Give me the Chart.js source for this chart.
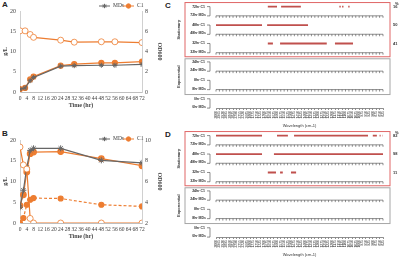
<html>
<head>
<script src="https://cdn.jsdelivr.net/npm/chart.js"></script>
<style>
  body { margin: 0; width: 400px; height: 258px; background: #fff; position: relative; overflow: hidden; }
  canvas { position: absolute; }
  .panel { position: absolute; font-family: "Liberation Sans", Arial, sans-serif; font-weight: bold; font-size: 8px; color: #222; }
</style>
</head>
<body>
<div class="panel" style="left:2px;top:0px">A</div>
<div class="panel" style="left:2px;top:129px">B</div>
<div class="panel" style="left:165px;top:1px">C</div>
<div class="panel" style="left:165px;top:130px">D</div>

<canvas id="chartA" width="165" height="129" style="left:0;top:0"></canvas>
<canvas id="chartB" width="165" height="129" style="left:0;top:129px"></canvas>
<canvas id="chartC" width="240" height="129" style="left:160px;top:0"></canvas>
<canvas id="chartD" width="240" height="129" style="left:160px;top:129px"></canvas>

<script>
// ---- panel A (time course)
var hoursA = [0, 3, 6, 8, 24, 32, 48, 56, 72];
var mdsA = [0.7, 1.0, 2.8, 3.6, 6.4, 6.5, 6.6, 6.6, 6.8];
var c1A = [0.7, 1.0, 3.1, 3.8, 6.5, 6.9, 7.2, 7.2, 7.5];
var sugarA = [15.1, 15.1, 14.2, 13.5, 12.8, 12.3, 12.4, 12.4, 12.2];

// ---- panel B (time course)
var hoursB = [0, 2, 4, 6, 8, 24, 48, 72];
var mdsB = [3.8, 7.9, 13.4, 17.5, 18.0, 18.0, 15.1, 14.5];
var c1B = [4.2, 6.8, 12.3, 16.7, 17.1, 17.2, 15.5, 13.8];
var sugarB = [18.3, 14.0, 13.0, 1.1, 0, 0, 0, 0];
var dashB = [0, 1.2, 4.4, 5.6, 6.0, 5.9, 4.4, 4.0];

// ---- panels C / D (significant regions along the spectrum)
var wavenumbers = ['3000','2965','2930','2895','2860','2825','2790','2755','2720','2685',
                   '1800','1775','1750','1725','1700','1675','1650','1625','1600','1575',
                   '1550','1525','1500','1475','1450','1425','1400','1375','1350','1325',
                   '1300','1275','1250','1225','1200','1175','1150','1125','1100','1075',
                   '1050','1025','1000','975','950','925','900','875','850','825'];
var rowTimes = ['72hr', '48hr', '32hr', '24hr', '8hr', '0hr'];

var sigC72 = [[15.2, 17.9], [19.1, 24.9], [36.2, 36.6], [37.0, 37.4], [38.8, 39.2]];
var sigC48 = [[0, 13.5], [15.0, 27.0]];
var sigC32 = [[15.2, 16.7], [18.8, 32.5], [34.9, 40.2], [49.1, 49.5]];
var pctC = ['16', '50', '41'];

var sigD72 = [[0, 13.5], [17.9, 21.1], [22.9, 44.6], [46.0, 47.2], [48.0, 48.3], [48.9, 49.2]];
var sigD48 = [[0, 13.5], [17.0, 49.5]];
var sigD32 = [[15.2, 17.6], [18.8, 19.6], [22.0, 23.5], [49.1, 49.5]];
var pctD = ['82', '98', '11'];

var GRAY = '#666666';
var ORANGE = '#ED7D31';
var SERIF = 'Liberation Serif';

function pts(hours, vals) {
    return hours.map(function(h, i) { return { x: h, y: vals[i] }; });
}

// legend drawn as line + marker + text, like the original
var legendPlugin = {
    id: 'lineLegend',
    afterDraw: function(chart, args, opts) {
        var ctx = chart.ctx;
        var r = chart.chartArea.right;
        var y = opts.y;
        var items = [
            { x: r - 43, color: GRAY, style: 'star', text: 'MDs' },
            { x: r - 19, color: ORANGE, style: 'circle', text: 'C1' }
        ];
        ctx.save();
        items.forEach(function(it) {
            ctx.strokeStyle = it.color;
            ctx.fillStyle = it.color;
            ctx.lineWidth = 1;
            ctx.beginPath();
            ctx.moveTo(it.x, y);
            ctx.lineTo(it.x + 11, y);
            ctx.stroke();
            Chart.helpers.drawPoint(ctx, { pointStyle: it.style, radius: 2.2, borderWidth: 1, rotation: 0 }, it.x + 5.5, y);
            ctx.fillStyle = '#404040';
            ctx.font = '5.5px ' + SERIF;
            ctx.textBaseline = 'middle';
            ctx.fillText(it.text, it.x + 14, y);
        });
        ctx.restore();
    }
};

function timeChart(id, datasets, y1, legendY, chartTop, bottomPad) {
    var tickFont = { family: SERIF, size: 5.5 };
    new Chart(document.getElementById(id), {
        type: 'line',
        data: { datasets: datasets },
        options: {
            responsive: false,
            animation: false,
            events: [],
            layout: { padding: { top: chartTop, bottom: bottomPad, left: 0, right: 0 } },
            plugins: {
                legend: { display: false },
                tooltip: { enabled: false },
                lineLegend: { y: legendY }
            },
            scales: {
                x: {
                    type: 'linear', min: 0, max: 72,
                    afterFit: function(s) { s.height = 17; },
                    ticks: { stepSize: 4, autoSkip: false, maxRotation: 0, font: tickFont, color: '#404040', padding: 3 },
                    grid: { display: false, drawTicks: false },
                    border: { color: '#bfbfbf' },
                    title: { display: true, text: 'Time (hr)', font: { family: SERIF, size: 6, weight: 'bold' }, color: '#404040', padding: 0 }
                },
                y: {
                    min: 0, max: 20,
                    afterFit: function(s) { s.width = 20; },
                    ticks: { stepSize: 5, font: { family: SERIF, size: 6 }, color: '#404040', padding: 4 },
                    grid: { display: false, drawTicks: false },
                    border: { color: '#d0d0d0' },
                    title: { display: true, text: 'g/L', font: { family: SERIF, size: 6, weight: 'bold' }, color: '#404040', padding: 2 }
                },
                y1: {
                    position: 'right', display: true, min: y1.min, max: y1.max,
                    afterFit: function(s) { s.width = 23; },
                    ticks: { stepSize: y1.step, font: { family: SERIF, size: 6 }, color: '#404040', padding: 3 },
                    grid: { display: false, drawTicks: false },
                    border: { color: '#d0d0d0' },
                    title: { display: true, text: 'OD600', font: { family: SERIF, size: 6, weight: 'bold' }, color: '#404040', padding: 2 }
                }
            }
        },
        plugins: [legendPlugin]
    });
}

timeChart('chartA', [
    { data: pts(hoursA, sugarA), borderColor: ORANGE, backgroundColor: '#fff', pointBorderColor: ORANGE, pointRadius: 3, borderWidth: 1.2, pointBorderWidth: 0.8 },
    { data: pts(hoursA, mdsA), borderColor: GRAY, backgroundColor: GRAY, pointStyle: 'star', pointRadius: 2.5, borderWidth: 1.2, pointBorderWidth: 1 },
    { data: pts(hoursA, c1A), borderColor: ORANGE, backgroundColor: ORANGE, pointRadius: 2.5, borderWidth: 1.2 }
], { min: 0, max: 8, step: 2 }, 6, 11, 20);

timeChart('chartB', [
    { data: pts(hoursB, sugarB), borderColor: ORANGE, backgroundColor: '#fff', pointBorderColor: ORANGE, pointRadius: 3, borderWidth: 1.2, pointBorderWidth: 0.8 },
    { data: pts(hoursB, dashB), borderColor: ORANGE, backgroundColor: ORANGE, borderDash: [3, 2], pointRadius: 2.5, borderWidth: 1.2 },
    { data: pts(hoursB, mdsB), borderColor: GRAY, backgroundColor: GRAY, pointStyle: 'star', pointRadius: 3, borderWidth: 1.2, pointBorderWidth: 1 },
    { data: pts(hoursB, c1B), borderColor: ORANGE, backgroundColor: ORANGE, pointRadius: 2.8, borderWidth: 1.2 }
], { min: 2, max: 10, step: 2 }, 10, 11, 18);

// draws the extra row axes, row labels, brackets, group boxes and percentages
var rowsPlugin = {
    id: 'rows',
    afterDraw: function(chart, args, opts) {
        var ctx = chart.ctx, xs = chart.scales.x, ys = chart.scales.y;
        ctx.save();
        ctx.strokeStyle = '#444';
        ctx.lineWidth = 0.6;
        for (var r = 0; r < rowTimes.length - 1; r++) {
            var y = ys.getPixelForValue(r);
            ctx.beginPath();
            ctx.moveTo(xs.left, y);
            ctx.lineTo(xs.right, y);
            for (var i = 0; i < wavenumbers.length; i++) {
                var px = xs.getPixelForValue(i);
                ctx.moveTo(px, y);
                ctx.lineTo(px, y + 2);
            }
            ctx.stroke();
        }
        ctx.fillStyle = '#333';
        ctx.font = 'bold 3.5px "Liberation Sans"';
        ctx.textAlign = 'right';
        ctx.textBaseline = 'middle';
        rowTimes.forEach(function(t, r) {
            var ya = ys.getPixelForValue(r - 0.5), yb = ys.getPixelForValue(r - 0.05);
            ctx.fillText(t + ' C1', xs.left - 11, ya);
            ctx.fillText(t + ' MDs', xs.left - 10, yb);
            ctx.beginPath();
            ctx.moveTo(xs.left - 9, ya);
            ctx.lineTo(xs.left - 6, ya);
            ctx.lineTo(xs.left - 6, yb + 1);
            ctx.lineTo(xs.left - 9, yb + 1);
            ctx.stroke();
        });
        // group boxes
        function box(v0, v1, color, label) {
            var y0 = ys.getPixelForValue(v0), y1 = ys.getPixelForValue(v1);
            ctx.strokeStyle = color;
            ctx.lineWidth = 1;
            ctx.strokeRect(xs.left - 31, y0, xs.right + 38 - xs.left, y1 - y0);
            ctx.save();
            ctx.translate(xs.left - 37, (y0 + y1) / 2);
            ctx.rotate(-Math.PI / 2);
            ctx.textAlign = 'center';
            ctx.font = 'bold 4px "Liberation Sans"';
            ctx.fillStyle = '#333';
            ctx.fillText(label, 0, 0);
            ctx.restore();
        }
        box(-0.72, 2.22, '#e06666', 'Stationary');
        box(2.33, 4.27, '#a6a6a6', 'Exponential');
        // percentages
        ctx.fillStyle = '#333';
        ctx.textAlign = 'left';
        ctx.font = 'bold 4px "Liberation Sans"';
        ctx.fillText('%', xs.right + 12, ys.getPixelForValue(-0.72) + 1);
        opts.pct.forEach(function(p, r) {
            ctx.fillText(p, xs.right + 10, ys.getPixelForValue(r - 0.5));
        });
        ctx.restore();
    }
};

function sigChart(id, rows, pct) {
    var datasets = rows.map(function(segs, r) {
        var data = [];
        segs.forEach(function(s) {
            data.push({ x: s[0], y: r - 0.5 }, { x: s[1], y: r - 0.5 }, { x: s[1], y: null });
        });
        return { data: data, borderColor: '#c0504d', borderWidth: 1.8, pointRadius: 0, spanGaps: false, borderCapStyle: 'butt' };
    });
    new Chart(document.getElementById(id), {
        type: 'line',
        data: { datasets: datasets },
        options: {
            responsive: false,
            animation: false,
            events: [],
            layout: { padding: { left: 56, right: 17, top: 2, bottom: 0 } },
            plugins: { legend: { display: false }, tooltip: { enabled: false }, rows: { pct: pct } },
            scales: {
                x: {
                    type: 'linear', min: 0, max: wavenumbers.length - 1,
                    afterFit: function(s) { s.height = 21; },
                    afterBuildTicks: function(s) { s.ticks = wavenumbers.map(function(w, i) { return { value: i }; }); },
                    ticks: { autoSkip: false, maxRotation: 90, minRotation: 90, font: { size: 3.4 }, color: '#333', padding: 1,
                             callback: function(v) { return wavenumbers[v]; } },
                    grid: { drawOnChartArea: false, tickLength: 2, color: '#444', lineWidth: 0.6 },
                    border: { color: '#444', width: 0.6 },
                    title: { display: true, text: 'Wavelength (cm-1)', font: { size: 4 }, color: '#333', padding: { top: 0, bottom: 1 } }
                },
                y: { type: 'linear', display: false, reverse: true, min: -0.75, max: 5 }
            }
        },
        plugins: [rowsPlugin]
    });
}

sigChart('chartC', [sigC72, sigC48, sigC32], pctC);
sigChart('chartD', [sigD72, sigD48, sigD32], pctD);
</script>
</body>
</html>
